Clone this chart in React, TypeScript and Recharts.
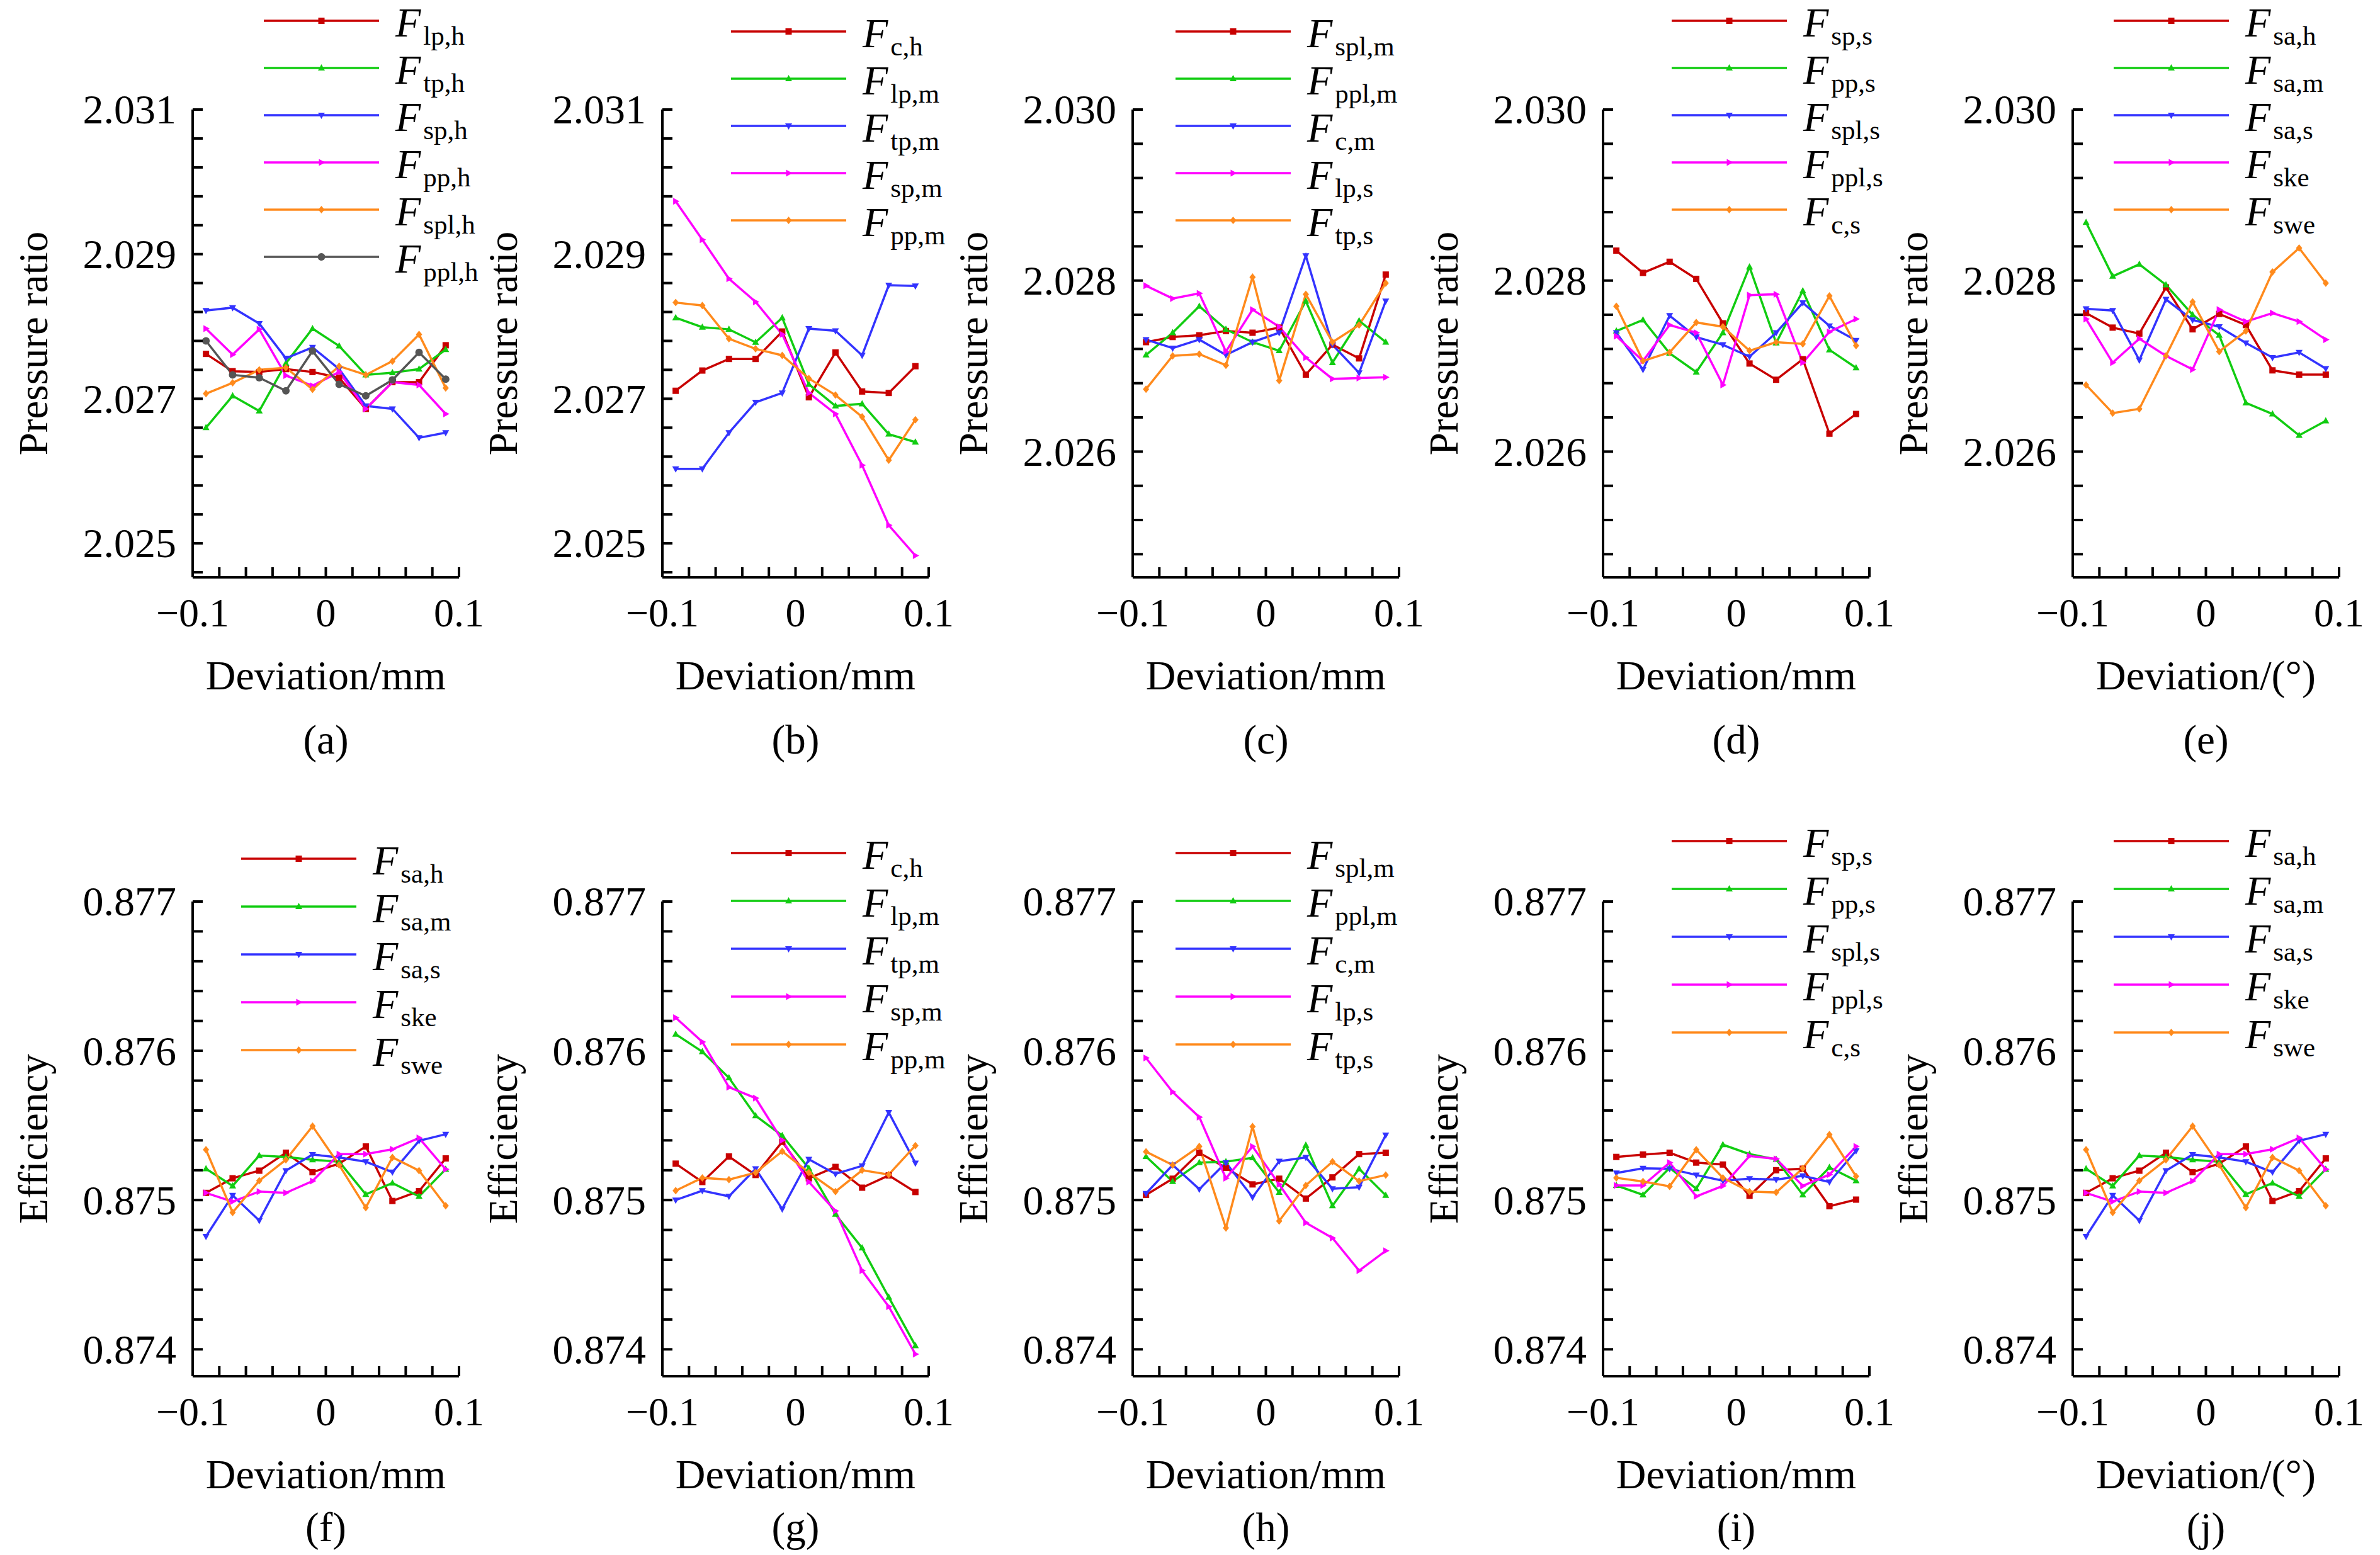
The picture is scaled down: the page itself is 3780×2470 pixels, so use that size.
import React from 'react';
import { LineChart, Line, XAxis, YAxis, Legend } from 'recharts';

// sample points along the deviation axis
const deviation = [-0.09, -0.07, -0.05, -0.03, -0.01, 0.01, 0.03, 0.05, 0.07, 0.09];
const xTicks = [-0.1, -0.08, -0.06, -0.04, -0.02, 0, 0.02, 0.04, 0.06, 0.08, 0.1];
const xTickLabels = [-0.1, 0, 0.1];

// labelled y ticks
const prTicksAB = [2.031, 2.029, 2.027, 2.025];
const prTicksCDE = [2.03, 2.028, 2.026];
const effTicks = [0.877, 0.876, 0.875, 0.874];

// (a) pressure ratio
const aLpH = [2.02762, 2.02738, 2.02737, 2.02741, 2.02737, 2.02729, 2.02686, 2.02723, 2.02723, 2.02774];
const aTpH = [2.0266, 2.02704, 2.02683, 2.02749, 2.02797, 2.02773, 2.02733, 2.02736, 2.02741, 2.02768];
const aSpH = [2.02822, 2.02826, 2.02804, 2.02756, 2.02771, 2.02741, 2.0269, 2.02686, 2.02646, 2.02653];
const aPpH = [2.02797, 2.02761, 2.02796, 2.02732, 2.02718, 2.02737, 2.02686, 2.02723, 2.02719, 2.02679];
const aSplH = [2.02707, 2.02722, 2.0274, 2.02743, 2.02713, 2.02745, 2.02733, 2.02752, 2.02789, 2.02715];
const aPplH = [2.0278, 2.02733, 2.02729, 2.02711, 2.02766, 2.0272, 2.02704, 2.02726, 2.02764, 2.02727];

// (b)
const bCH = [2.02711, 2.02739, 2.02755, 2.02755, 2.02793, 2.02702, 2.02764, 2.0271, 2.02708, 2.02745];
const bLpM = [2.02812, 2.02799, 2.02796, 2.02778, 2.02812, 2.0272, 2.0269, 2.02693, 2.02651, 2.0264];
const bTpM = [2.02603, 2.02603, 2.02653, 2.02695, 2.02708, 2.02797, 2.02794, 2.0276, 2.02857, 2.02856];
const bSpM = [2.02973, 2.0292, 2.02866, 2.02834, 2.02789, 2.02708, 2.02679, 2.02608, 2.02525, 2.02483];
const bPpM = [2.02833, 2.02829, 2.02783, 2.02769, 2.0276, 2.02728, 2.02705, 2.02675, 2.02615, 2.02671];

// (c)
const cSplM = [2.02728, 2.02734, 2.02736, 2.02741, 2.02739, 2.02745, 2.0269, 2.02725, 2.02709, 2.02807];
const cPplM = [2.02713, 2.02739, 2.0277, 2.02743, 2.02728, 2.02718, 2.02776, 2.02704, 2.02753, 2.02728];
const cCM = [2.02731, 2.02721, 2.02731, 2.02713, 2.02728, 2.02739, 2.02829, 2.02725, 2.02692, 2.02776];
const cLpS = [2.02794, 2.02779, 2.02785, 2.02717, 2.02766, 2.02746, 2.0271, 2.02685, 2.02686, 2.02687];
const cTpS = [2.02673, 2.02712, 2.02714, 2.02701, 2.02804, 2.02683, 2.02784, 2.02728, 2.02748, 2.02797];

// (d)
const dSpS = [2.02835, 2.02809, 2.02822, 2.02802, 2.0275, 2.02703, 2.02684, 2.02708, 2.02621, 2.02644];
const dPpS = [2.02741, 2.02754, 2.02715, 2.02693, 2.02739, 2.02816, 2.02727, 2.02788, 2.02719, 2.02698];
const dSplS = [2.02739, 2.02696, 2.02759, 2.02734, 2.02725, 2.02711, 2.02739, 2.02774, 2.02747, 2.0273];
const dPplS = [2.02735, 2.02706, 2.02748, 2.02739, 2.02678, 2.02783, 2.02784, 2.02704, 2.0274, 2.02755];
const dCS = [2.0277, 2.02706, 2.02716, 2.02751, 2.02746, 2.02718, 2.02728, 2.02726, 2.02782, 2.02724];

// (e)
const eSaH = [2.02762, 2.02745, 2.02738, 2.02792, 2.02743, 2.02761, 2.02748, 2.02695, 2.0269, 2.0269];
const eSaM = [2.02868, 2.02805, 2.02819, 2.02795, 2.0276, 2.02736, 2.02657, 2.02644, 2.02619, 2.02636];
const eSaS = [2.02767, 2.02765, 2.02707, 2.02778, 2.02754, 2.02746, 2.02727, 2.0271, 2.02716, 2.02697];
const eSke = [2.02755, 2.02704, 2.02732, 2.02712, 2.02696, 2.02766, 2.02752, 2.02762, 2.02752, 2.02731];
const eSwe = [2.02678, 2.02645, 2.0265, 2.02712, 2.02775, 2.02717, 2.02741, 2.0281, 2.02838, 2.02797];

// (f) efficiency, (j) shows the same curves
const fSaH = [0.875048, 0.875146, 0.875197, 0.875317, 0.875187, 0.875244, 0.875359, 0.874994, 0.87506, 0.875279];
const fSaM = [0.87521, 0.875095, 0.875298, 0.875289, 0.87527, 0.875257, 0.875038, 0.875114, 0.875025, 0.875206];
const fSaS = [0.874756, 0.875032, 0.874863, 0.875197, 0.875305, 0.875286, 0.875257, 0.875187, 0.875397, 0.875441];
const fSke = [0.875048, 0.87499, 0.875057, 0.875048, 0.875127, 0.875308, 0.875308, 0.87534, 0.875416, 0.875206];
const fSwe = [0.875337, 0.874917, 0.87513, 0.87527, 0.875495, 0.875235, 0.874949, 0.875286, 0.875197, 0.874962];

// (g)
const gCH = [0.875244, 0.875121, 0.875292, 0.875168, 0.87539, 0.875146, 0.875222, 0.875083, 0.875165, 0.875054];
const gLpM = [0.876111, 0.875994, 0.875819, 0.875565, 0.875432, 0.875213, 0.874905, 0.874679, 0.874349, 0.874025];
const gTpM = [0.875, 0.875063, 0.875025, 0.87521, 0.87494, 0.875273, 0.875175, 0.875229, 0.875587, 0.875248];
const gSpM = [0.876222, 0.87606, 0.875756, 0.875683, 0.8754, 0.875121, 0.874927, 0.874527, 0.874286, 0.873968];
const gPpM = [0.875063, 0.875149, 0.875137, 0.875184, 0.875327, 0.875184, 0.875057, 0.8752, 0.875171, 0.875365];

// (h)
const hSplM = [0.875035, 0.875143, 0.875317, 0.875216, 0.875105, 0.875143, 0.87501, 0.875152, 0.875308, 0.875317];
const hPplM = [0.875292, 0.875124, 0.875251, 0.875257, 0.875283, 0.875051, 0.875368, 0.874962, 0.87521, 0.875032];
const hCM = [0.875044, 0.875235, 0.875073, 0.875251, 0.875019, 0.87526, 0.875286, 0.875076, 0.875086, 0.875435];
const hLpS = [0.875952, 0.875724, 0.875556, 0.875146, 0.875359, 0.875105, 0.874848, 0.874746, 0.874527, 0.87466];
const hTpS = [0.875324, 0.875235, 0.875359, 0.874813, 0.875492, 0.87486, 0.875098, 0.875257, 0.875127, 0.875168];

// (i)
const iSpS = [0.875289, 0.875305, 0.875317, 0.875251, 0.875238, 0.875029, 0.8752, 0.87521, 0.874959, 0.875003];
const iPpS = [0.875098, 0.875035, 0.875216, 0.875076, 0.875371, 0.875308, 0.875273, 0.875035, 0.875219, 0.87513];
const iSplS = [0.875181, 0.875213, 0.87521, 0.875168, 0.87513, 0.875143, 0.875137, 0.875162, 0.875121, 0.87533];
const iPplS = [0.875098, 0.875098, 0.875251, 0.875025, 0.875095, 0.875295, 0.875276, 0.875095, 0.875171, 0.875359];
const iCS = [0.875149, 0.875124, 0.875092, 0.875337, 0.875149, 0.875057, 0.875051, 0.875213, 0.875438, 0.875159];

const FONT = '"Liberation Serif", "Times New Roman", serif';
const colors = ['#c80000', '#11cc11', '#3333ff', '#ff00ff', '#ff8a1c', '#555555'];
type Shape = 'square' | 'up' | 'down' | 'right' | 'diamond' | 'circle';
const shapes: Shape[] = ['square', 'up', 'down', 'right', 'diamond', 'circle'];

const axisXs = [306, 1052, 1799, 2546, 3292];
const rowLayout = [
  { top: 0, height: 1240, plotTop: 174, axisH: 323, labelDy: 280, gap: 75, lo: 2.02453, step: 0.0004 },
  { top: 1250, height: 1220, plotTop: 182, axisH: 284, labelDy: 262, gap: 76, lo: 0.87382, step: 0.0002 },
];

interface Series { sub: string; values: number[] }
interface PanelDef {
  label: string;
  col: number;
  row: number;
  hi: number;
  majors: number[];
  yTitle: string;
  xTitle: string;
  legendX: number;
  legendY: number;
  series: Series[];
}

const panels: PanelDef[] = [
  {
    label: '(a)', col: 0, row: 0, hi: 2.031, majors: prTicksAB, yTitle: 'Pressure ratio', xTitle: 'Deviation/mm',
    legendX: 113, legendY: 33,
    series: [
      { sub: 'lp,h', values: aLpH }, { sub: 'tp,h', values: aTpH }, { sub: 'sp,h', values: aSpH },
      { sub: 'pp,h', values: aPpH }, { sub: 'spl,h', values: aSplH }, { sub: 'ppl,h', values: aPplH },
    ],
  },
  {
    label: '(b)', col: 1, row: 0, hi: 2.031, majors: prTicksAB, yTitle: 'Pressure ratio', xTitle: 'Deviation/mm',
    legendX: 109, legendY: 50,
    series: [
      { sub: 'c,h', values: bCH }, { sub: 'lp,m', values: bLpM }, { sub: 'tp,m', values: bTpM },
      { sub: 'sp,m', values: bSpM }, { sub: 'pp,m', values: bPpM },
    ],
  },
  {
    label: '(c)', col: 2, row: 0, hi: 2.03, majors: prTicksCDE, yTitle: 'Pressure ratio', xTitle: 'Deviation/mm',
    legendX: 68, legendY: 50,
    series: [
      { sub: 'spl,m', values: cSplM }, { sub: 'ppl,m', values: cPplM }, { sub: 'c,m', values: cCM },
      { sub: 'lp,s', values: cLpS }, { sub: 'tp,s', values: cTpS },
    ],
  },
  {
    label: '(d)', col: 3, row: 0, hi: 2.03, majors: prTicksCDE, yTitle: 'Pressure ratio', xTitle: 'Deviation/mm',
    legendX: 109, legendY: 33,
    series: [
      { sub: 'sp,s', values: dSpS }, { sub: 'pp,s', values: dPpS }, { sub: 'spl,s', values: dSplS },
      { sub: 'ppl,s', values: dPplS }, { sub: 'c,s', values: dCS },
    ],
  },
  {
    label: '(e)', col: 4, row: 0, hi: 2.03, majors: prTicksCDE, yTitle: 'Pressure ratio', xTitle: 'Deviation/(°)',
    legendX: 65, legendY: 33,
    series: [
      { sub: 'sa,h', values: eSaH }, { sub: 'sa,m', values: eSaM }, { sub: 'sa,s', values: eSaS },
      { sub: 'ske', values: eSke }, { sub: 'swe', values: eSwe },
    ],
  },
  {
    label: '(f)', col: 0, row: 1, hi: 0.877, majors: effTicks, yTitle: 'Efficiency', xTitle: 'Deviation/mm',
    legendX: 77, legendY: 114,
    series: [
      { sub: 'sa,h', values: fSaH }, { sub: 'sa,m', values: fSaM }, { sub: 'sa,s', values: fSaS },
      { sub: 'ske', values: fSke }, { sub: 'swe', values: fSwe },
    ],
  },
  {
    label: '(g)', col: 1, row: 1, hi: 0.877, majors: effTicks, yTitle: 'Efficiency', xTitle: 'Deviation/mm',
    legendX: 109, legendY: 105,
    series: [
      { sub: 'c,h', values: gCH }, { sub: 'lp,m', values: gLpM }, { sub: 'tp,m', values: gTpM },
      { sub: 'sp,m', values: gSpM }, { sub: 'pp,m', values: gPpM },
    ],
  },
  {
    label: '(h)', col: 2, row: 1, hi: 0.877, majors: effTicks, yTitle: 'Efficiency', xTitle: 'Deviation/mm',
    legendX: 68, legendY: 105,
    series: [
      { sub: 'spl,m', values: hSplM }, { sub: 'ppl,m', values: hPplM }, { sub: 'c,m', values: hCM },
      { sub: 'lp,s', values: hLpS }, { sub: 'tp,s', values: hTpS },
    ],
  },
  {
    label: '(i)', col: 3, row: 1, hi: 0.877, majors: effTicks, yTitle: 'Efficiency', xTitle: 'Deviation/mm',
    legendX: 109, legendY: 86,
    series: [
      { sub: 'sp,s', values: iSpS }, { sub: 'pp,s', values: iPpS }, { sub: 'spl,s', values: iSplS },
      { sub: 'ppl,s', values: iPplS }, { sub: 'c,s', values: iCS },
    ],
  },
  {
    label: '(j)', col: 4, row: 1, hi: 0.877, majors: effTicks, yTitle: 'Efficiency', xTitle: 'Deviation/(°)',
    legendX: 65, legendY: 86,
    series: [
      { sub: 'sa,h', values: fSaH }, { sub: 'sa,m', values: fSaM }, { sub: 'sa,s', values: fSaS },
      { sub: 'ske', values: fSke }, { sub: 'swe', values: fSwe },
    ],
  },
];

const Marker = ({ shape, x, y, color }: { shape: Shape; x: number; y: number; color: string }) => {
  switch (shape) {
    case 'square':
      return <rect x={x - 5} y={y - 5} width={10} height={10} fill={color} />;
    case 'up':
      return <polygon points={`${x},${y - 6} ${x - 5.5},${y + 4} ${x + 5.5},${y + 4}`} fill={color} />;
    case 'down':
      return <polygon points={`${x},${y + 6} ${x - 5.5},${y - 4} ${x + 5.5},${y - 4}`} fill={color} />;
    case 'right':
      return <polygon points={`${x + 6},${y} ${x - 4},${y - 5.5} ${x - 4},${y + 5.5}`} fill={color} />;
    case 'diamond':
      return <polygon points={`${x},${y - 6} ${x + 5},${y} ${x},${y + 6} ${x - 5},${y}`} fill={color} />;
    default:
      return <circle cx={x} cy={y} r={6} fill={color} />;
  }
};

const same = (a: number, b: number) => Math.abs(a - b) < 1e-8;

const fmtX = (v: number) => (same(v, 0) ? '0' : (v < 0 ? '\u2212' : '') + Math.abs(v));

const XTick = (props: any) => {
  const { x, y, payload } = props;
  const v = payload.value as number;
  const major = xTickLabels.some((m) => same(m, v));
  return (
    <g>
      <line x1={x} y1={y} x2={x} y2={y - 16} stroke="#000" strokeWidth={4} />
      {major && (
        <text x={x} y={y + 78} textAnchor="middle" fontFamily={FONT} fontSize={64} fill="#000">
          {fmtX(v)}
        </text>
      )}
    </g>
  );
};

const makeYTick = (majors: number[]) => (props: any) => {
  const { x, y, payload } = props;
  const v = payload.value as number;
  const major = majors.some((m) => same(m, v));
  return (
    <g>
      <line x1={x} y1={y} x2={x + 16} y2={y} stroke="#000" strokeWidth={4} />
      {major && (
        <text x={x - 26} y={y} dy="0.34em" textAnchor="end" fontFamily={FONT} fontSize={66} fill="#000">
          {v.toFixed(3)}
        </text>
      )}
    </g>
  );
};

const LegendBox = ({ def, gap }: { def: PanelDef; gap: number }) => (
  <svg width={440} height={(def.series.length - 1) * gap + 60} style={{ display: 'block', overflow: 'visible' }}>
    {def.series.map((s, k) => {
      const cy = 20 + k * gap;
      return (
        <g key={s.sub}>
          <line x1={0} x2={183} y1={cy} y2={cy} stroke={colors[k]} strokeWidth={3.5} />
          <Marker shape={shapes[k]} x={91.5} y={cy} color={colors[k]} />
          <text x={209} y={cy + 25} fontFamily={FONT} fill="#000">
            <tspan fontStyle="italic" fontSize={66}>F</tspan>
            <tspan fontSize={43} dx={4} dy={13}>{s.sub}</tspan>
          </text>
        </g>
      );
    })}
  </svg>
);

const Panel = ({ def }: { def: PanelDef }) => {
  const row = rowLayout[def.row];
  const axisX = axisXs[def.col];
  const data = deviation.map((x, i) => {
    const point: Record<string, number> = { x };
    def.series.forEach((s, k) => {
      point[`s${k}`] = s.values[i];
    });
    return point;
  });
  const yTicks: number[] = [];
  for (let k = 0; def.hi - k * row.step >= row.lo - 1e-9; k++) {
    yTicks.push(+(def.hi - k * row.step).toFixed(6));
  }

  return (
    <div style={{ position: 'absolute', left: axisX - 300, top: row.top }}>
      <LineChart
        width={800}
        height={row.height}
        data={data}
        margin={{ top: row.plotTop, right: 77, bottom: 0, left: 0 }}
      >
        <XAxis
          type="number"
          dataKey="x"
          domain={[-0.1, 0.1]}
          ticks={xTicks}
          interval={0}
          allowDataOverflow
          height={row.axisH}
          tickSize={0}
          tickMargin={0}
          tickLine={false}
          tick={XTick}
          axisLine={{ stroke: '#000', strokeWidth: 4 }}
          label={(lp: any) => {
            const vb = lp.viewBox;
            const cx = vb.x + vb.width / 2;
            return (
              <g>
                <text x={cx} y={vb.y + 178} textAnchor="middle" fontFamily={FONT} fontSize={66} fill="#000">
                  {def.xTitle}
                </text>
                <text x={cx} y={vb.y + row.labelDy} textAnchor="middle" fontFamily={FONT} fontSize={65} fill="#000">
                  {def.label}
                </text>
              </g>
            );
          }}
        />
        <YAxis
          type="number"
          domain={[row.lo, def.hi]}
          ticks={yTicks}
          interval={0}
          allowDataOverflow
          width={300}
          tickSize={0}
          tickMargin={0}
          tickLine={false}
          tick={makeYTick(def.majors)}
          axisLine={{ stroke: '#000', strokeWidth: 4 }}
          label={(lp: any) => {
            const vb = lp.viewBox;
            const bx = vb.x + vb.width - 231;
            const cy = vb.y + vb.height / 2;
            return (
              <text
                x={bx}
                y={cy}
                transform={`rotate(-90, ${bx}, ${cy})`}
                textAnchor="middle"
                fontFamily={FONT}
                fontSize={65}
                fill="#000"
              >
                {def.yTitle}
              </text>
            );
          }}
        />
        <Legend
          layout="vertical"
          align="center"
          verticalAlign="middle"
          width={440}
          wrapperStyle={{ left: 300 + def.legendX, top: def.legendY - 20, width: 440 }}
          content={() => <LegendBox def={def} gap={row.gap} />}
        />
        {def.series.map((s, k) => (
          <Line
            key={s.sub}
            type="linear"
            dataKey={`s${k}`}
            name={s.sub}
            stroke={colors[k]}
            strokeWidth={3.5}
            activeDot={false}
            isAnimationActive={false}
            dot={(dp: any) => (
              <Marker key={`${s.sub}-${dp.index}`} shape={shapes[k]} x={dp.cx} y={dp.cy} color={colors[k]} />
            )}
          />
        ))}
      </LineChart>
    </div>
  );
}

export default function App() {
  return (
    <div style={{ position: 'relative', width: 3780, height: 2470, background: '#fff', overflow: 'hidden' }}>
      <style>{'body{margin:0}'}</style>
      {panels.map((p) => (
        <Panel key={p.label} def={p} />
      ))}
    </div>
  );
}
